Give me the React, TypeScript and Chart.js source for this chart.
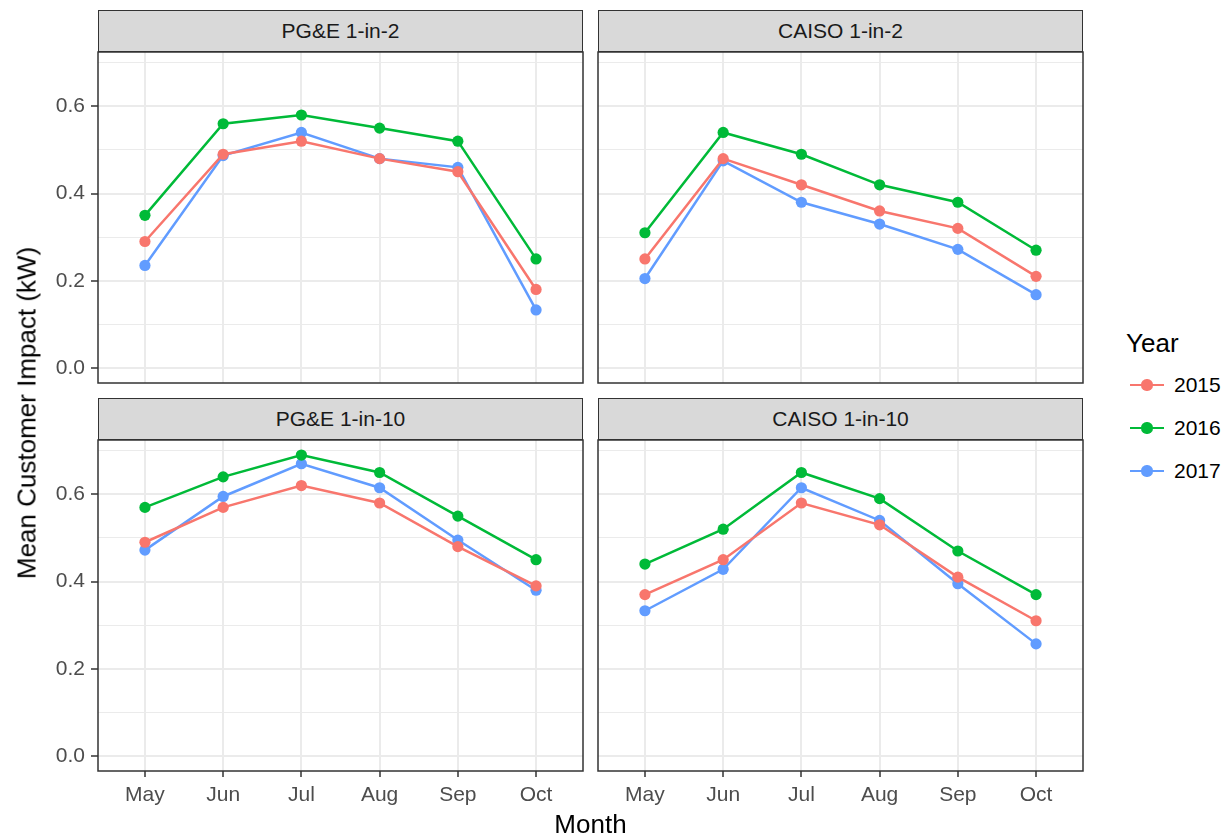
import React, { useEffect, useRef } from "react";
import { Chart, registerables } from "chart.js";

Chart.register(...registerables);

// ---------- data ----------
const MONTHS = ["May", "Jun", "Jul", "Aug", "Sep", "Oct"];
const YEARS = ["2015", "2016", "2017"];
const Y_TICKS = [0, 0.1, 0.2, 0.3, 0.4, 0.5, 0.6, 0.7];
const Y_LABELS = ["0.0", "", "0.2", "", "0.4", "", "0.6", ""];
const Y_MIN = -0.0345;
const Y_MAX = 0.7245;

const PGE_1IN2_2015 = [0.29, 0.49, 0.52, 0.48, 0.45, 0.18];
const PGE_1IN2_2016 = [0.35, 0.56, 0.58, 0.55, 0.52, 0.25];
const PGE_1IN2_2017 = [0.235, 0.487, 0.54, 0.48, 0.46, 0.133];

const CAISO_1IN2_2015 = [0.25, 0.48, 0.42, 0.36, 0.32, 0.21];
const CAISO_1IN2_2016 = [0.31, 0.54, 0.49, 0.42, 0.38, 0.27];
const CAISO_1IN2_2017 = [0.205, 0.475, 0.38, 0.33, 0.272, 0.168];

const PGE_1IN10_2015 = [0.49, 0.57, 0.62, 0.58, 0.48, 0.39];
const PGE_1IN10_2016 = [0.57, 0.64, 0.69, 0.65, 0.55, 0.45];
const PGE_1IN10_2017 = [0.472, 0.595, 0.67, 0.615, 0.495, 0.38];

const CAISO_1IN10_2015 = [0.37, 0.45, 0.58, 0.53, 0.41, 0.31];
const CAISO_1IN10_2016 = [0.44, 0.52, 0.65, 0.59, 0.47, 0.37];
const CAISO_1IN10_2017 = [0.333, 0.428, 0.615, 0.54, 0.395, 0.257];

const PANEL_TITLES = ["PG&E 1-in-2", "CAISO 1-in-2", "PG&E 1-in-10", "CAISO 1-in-10"];
const PANEL_SERIES = [
  [PGE_1IN2_2015, PGE_1IN2_2016, PGE_1IN2_2017],
  [CAISO_1IN2_2015, CAISO_1IN2_2016, CAISO_1IN2_2017],
  [PGE_1IN10_2015, PGE_1IN10_2016, PGE_1IN10_2017],
  [CAISO_1IN10_2015, CAISO_1IN10_2016, CAISO_1IN10_2017],
];

// ---------- styles / layout ----------
const COLORS = ["#F8766D", "#00BA38", "#619CFF"];
const FONT = "'Liberation Sans', Arial, Helvetica, sans-serif";
const GRID = "#EBEBEB";
const DARK = "#333333";
const PAD = 2;
const YW = 60;
const XH = 44;
const COL_X = [98, 598];
const PLOT_W = 485;
const ROW_STRIP_TOP = [10, 398];
const ROW_PLOT_TOP = [52, 440];
const PLOT_H = 331;
const POINT_R = 5.6;
const LINE_W = 2.5;

const panelBorder = {
  id: "panelBorder",
  afterDraw(chart: any) {
    const { ctx, chartArea: a } = chart;
    ctx.save();
    ctx.strokeStyle = DARK;
    ctx.lineWidth = 1.5;
    ctx.strokeRect(a.left, a.top, a.right - a.left, a.bottom - a.top);
    ctx.restore();
  },
};

const zeroPadding = (s: any) => {
  s.paddingTop = 0;
  s.paddingBottom = 0;
  s.paddingLeft = 0;
  s.paddingRight = 0;
};

function Panel({ idx }: { idx: number }) {
  const ref = useRef<HTMLCanvasElement>(null);
  const col = idx % 2;
  const row = Math.floor(idx / 2);
  const showY = col === 0;
  const showX = row === 1;
  const left = COL_X[col] - PAD - (showY ? YW : 0);
  const top = ROW_PLOT_TOP[row] - PAD;
  const width = PAD + (showY ? YW : 0) + PLOT_W + PAD;
  const height = PAD + PLOT_H + (showX ? XH : 0) + PAD;

  useEffect(() => {
    const series = PANEL_SERIES[idx];
    const chart = new Chart(ref.current as HTMLCanvasElement, {
      type: "line",
      data: {
        datasets: series.map((vals, k) => ({
          label: YEARS[k],
          data: vals.map((v, i) => ({ x: i, y: v })),
          borderColor: COLORS[k],
          backgroundColor: COLORS[k],
          pointBackgroundColor: COLORS[k],
          pointBorderColor: COLORS[k],
          pointBorderWidth: 0,
          pointRadius: POINT_R,
          borderWidth: LINE_W,
          tension: 0,
          fill: false,
        })),
      },
      options: {
        responsive: false,
        maintainAspectRatio: false,
        animation: false,
        events: [],
        layout: { padding: PAD, autoPadding: false },
        plugins: { legend: { display: false }, tooltip: { enabled: false } },
        scales: {
          x: {
            type: "linear",
            min: -0.6,
            max: 5.6,
            afterBuildTicks: (s: any) => {
              s.ticks = MONTHS.map((_, i) => ({ value: i }));
            },
            afterFit: (s: any) => {
              s.height = showX ? XH : 0;
              zeroPadding(s);
            },
            grid: {
              color: GRID,
              lineWidth: 2,
              drawTicks: showX,
              tickLength: 6,
              tickColor: DARK,
              tickWidth: 1.5,
            },
            border: { display: false },
            ticks: {
              display: showX,
              autoSkip: false,
              maxRotation: 0,
              padding: 6,
              color: "#4D4D4D",
              font: { family: FONT, size: 21 },
              callback: (v: any) => MONTHS[v as number],
            },
          },
          y: {
            type: "linear",
            min: Y_MIN,
            max: Y_MAX,
            afterBuildTicks: (s: any) => {
              s.ticks = Y_TICKS.map((v) => ({ value: v }));
            },
            afterFit: (s: any) => {
              s.width = showY ? YW : 0;
              zeroPadding(s);
            },
            grid: {
              color: GRID,
              lineWidth: (c: any) => (c.index % 2 === 0 ? 2 : 1),
              drawTicks: showY,
              tickLength: 7,
              tickColor: (c: any) => (c.index % 2 === 0 ? DARK : "rgba(0,0,0,0)"),
              tickWidth: 1.5,
            },
            border: { display: false },
            ticks: {
              display: showY,
              autoSkip: false,
              padding: 6,
              color: "#4D4D4D",
              font: { family: FONT, size: 21 },
              callback: (_v: any, i: number) => Y_LABELS[i],
            },
          },
        },
      } as any,
      plugins: [panelBorder],
    });
    return () => chart.destroy();
  }, [idx]);

  return (
    <>
      <div
        style={{
          position: "absolute",
          left: COL_X[col],
          top: ROW_STRIP_TOP[row],
          width: PLOT_W,
          height: ROW_PLOT_TOP[row] - ROW_STRIP_TOP[row],
          boxSizing: "border-box",
          background: "#D9D9D9",
          border: `1.5px solid ${DARK}`,
          color: "#1A1A1A",
          font: `21px ${FONT}`,
          display: "flex",
          alignItems: "center",
          justifyContent: "center",
        }}
      >
        {PANEL_TITLES[idx]}
      </div>
      <canvas
        ref={ref}
        width={width}
        height={height}
        style={{ position: "absolute", left, top, width, height, display: "block" }}
      />
    </>
  );
}

export default function App() {
  return (
    <div
      style={{
        position: "absolute",
        left: 0,
        top: 0,
        width: 1228,
        height: 838,
        background: "#FFFFFF",
        overflow: "hidden",
        fontFamily: FONT,
      }}
    >
      {[0, 1, 2, 3].map((i) => (
        <Panel key={i} idx={i} />
      ))}
      <div
        style={{
          position: "absolute",
          left: 27,
          top: 413,
          transform: "translate(-50%, -50%) rotate(-90deg)",
          whiteSpace: "nowrap",
          font: `26px ${FONT}`,
          color: "#000",
        }}
      >
        Mean Customer Impact (kW)
      </div>
      <div
        style={{
          position: "absolute",
          left: 590.5,
          top: 824,
          transform: "translate(-50%, -50%)",
          whiteSpace: "nowrap",
          font: `26px ${FONT}`,
          color: "#000",
        }}
      >
        Month
      </div>
      <div
        style={{
          position: "absolute",
          left: 1126,
          top: 343,
          transform: "translateY(-50%)",
          font: `26px ${FONT}`,
          color: "#000",
        }}
      >
        Year
      </div>
      {YEARS.map((y, k) => {
        const cy = 385 + k * 43;
        return (
          <React.Fragment key={y}>
            <div
              style={{
                position: "absolute",
                left: 1130,
                top: cy - LINE_W / 2,
                width: 34,
                height: LINE_W,
                background: COLORS[k],
              }}
            />
            <div
              style={{
                position: "absolute",
                left: 1147 - POINT_R,
                top: cy - POINT_R,
                width: POINT_R * 2,
                height: POINT_R * 2,
                borderRadius: "50%",
                background: COLORS[k],
              }}
            />
            <div
              style={{
                position: "absolute",
                left: 1174,
                top: cy,
                transform: "translateY(-50%)",
                font: `21px ${FONT}`,
                color: "#000",
              }}
            >
              {y}
            </div>
          </React.Fragment>
        );
      })}
    </div>
  );
}
